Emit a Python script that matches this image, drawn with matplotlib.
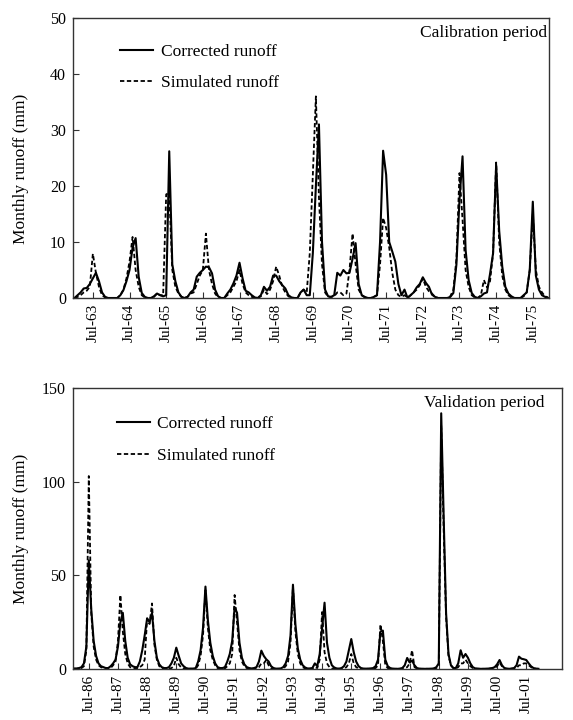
import numpy as np
import matplotlib
matplotlib.use('Agg')
import matplotlib.pyplot as plt

plt.rcParams['font.family'] = ['Liberation Serif', 'DejaVu Serif']

# Calibration period, monthly values Jan-1963 .. Dec-1975 (mm)
cal_corrected = [
    0, 0.5, 1, 1.7, 1.8, 2.5, 3.5, 4.5, 3, 1, 0.2, 0,          # 1963
    0, 0, 0, 0.5, 1.4, 3, 5, 9, 10.7, 3.8, 0.9, 0.2,            # 1964
    0, 0, 0.3, 0.8, 0.5, 0.3, 0.5, 26.2, 6, 3, 1, 0.2,          # 1965
    0, 0.2, 1, 1.5, 3.8, 4.5, 5, 5.6, 5.5, 4.4, 1.5, 0.3,       # 1966
    0, 0, 0.8, 1.5, 2.6, 4, 6.3, 3.5, 1.3, 1, 0.5, 0.1,         # 1967
    0, 0.5, 2, 1.3, 2, 4, 4, 3, 2.3, 1.7, 0.5, 0.1,             # 1968
    0, 0, 1, 1.5, 0.5, 0.5, 8, 20, 31, 10, 1.5, 0.3,            # 1969
    0.2, 0.5, 4.5, 4, 5, 4.4, 4.5, 7, 9.8, 2.5, 0.5, 0.2,       # 1970
    0, 0, 0.2, 0.5, 10, 26.3, 22, 10, 8.3, 6.5, 2.5, 0.5,       # 1971
    1.5, 0, 0.5, 1, 1.9, 2.5, 3.7, 2.7, 2, 0.6, 0.2, 0,         # 1972
    0, 0, 0, 0.2, 0.9, 6, 17.5, 25.3, 8.6, 3.2, 0.9, 0.2,       # 1973
    0, 0.3, 0.8, 1, 4.3, 8, 23.8, 12, 5.6, 2, 0.8, 0.3,         # 1974
    0, 0, 0, 0.5, 1, 5, 17.2, 4, 1.5, 0.5, 0.2, 0,              # 1975
]
cal_simulated = [
    0, 0.2, 0.5, 1, 1.3, 2, 7.9, 4.5, 2, 0.5, 0.1, 0,           # 1963
    0, 0, 0, 0.5, 1.5, 3.5, 6.5, 10.9, 5, 2, 0.5, 0.1,          # 1964
    0, 0, 0.2, 0.8, 0.5, 0.5, 18.5, 18.8, 5, 2, 0.8, 0.2,       # 1965
    0, 0.2, 0.8, 1, 2.5, 4, 5, 11.5, 5, 2.5, 0.8, 0.1,          # 1966
    0, 0, 0.5, 1, 2, 3, 5, 2.5, 1, 0.5, 0.2, 0,                 # 1967
    0, 0.3, 1.5, 0.7, 1.5, 3, 5.6, 4, 2, 1, 0.3, 0,             # 1968
    0, 0, 1, 1.5, 1, 8, 22, 36, 18, 6, 1, 0.2,                  # 1969
    0.2, 0.3, 1, 1, 0.5, 0.8, 5, 11.5, 6, 1.5, 0.5, 0.1,        # 1970
    0, 0, 0.2, 0.5, 6, 14.3, 12.5, 9, 4.5, 1.5, 0.5, 0.2,       # 1971
    0.5, 0.1, 0.5, 1, 1.5, 2.3, 3.5, 2, 1.2, 0.8, 0.2, 0,       # 1972
    0, 0, 0, 0.3, 1.5, 7, 22.3, 14, 5, 2, 0.5, 0.1,             # 1973
    0, 0.5, 3.2, 1.9, 3, 8, 24.2, 10, 4, 1.5, 0.5, 0.1,         # 1974
    0, 0, 0, 0.3, 1, 5, 15, 5, 2, 1, 0.3, 0.1,                  # 1975
]
cal_labels = ['Jul-63', 'Jul-64', 'Jul-65', 'Jul-66', 'Jul-67', 'Jul-68', 'Jul-69',
              'Jul-70', 'Jul-71', 'Jul-72', 'Jul-73', 'Jul-74', 'Jul-75']

# Validation period, monthly values Jan-1986 .. Dec-2001 (mm)
val_corrected = [
    0.3, 0.3, 0.5, 1, 3, 12, 58, 32, 15, 7, 3, 1.5,             # 1986
    1, 0.5, 0.5, 1.5, 3, 5, 12, 25, 30, 15, 6, 2.5,             # 1987
    1.5, 1, 1, 4, 10, 18, 27, 25, 30, 15, 6, 2.5,               # 1988
    1, 0.5, 0.5, 1, 3, 6, 11.4, 7, 3, 1.5, 0.5, 0.2,            # 1989
    0.2, 0.2, 0.5, 4, 10, 22, 44, 26, 14, 7, 3, 1,              # 1990
    0.5, 0.5, 1, 4, 8, 15, 33, 30, 14, 6, 2.5, 1,               # 1991
    0.5, 0.3, 0.5, 1, 4, 9.8, 7, 5.2, 4, 1.5, 0.5, 0.2,         # 1992
    0.2, 0.3, 1, 3, 7, 18, 45, 24, 11, 5, 2, 0.8,               # 1993
    0.3, 0.3, 0.5, 3, 1.5, 8, 22, 35.4, 14, 6, 2, 0.8,          # 1994
    0.3, 0.2, 0.5, 1.5, 4, 10, 16, 9, 4, 1.5, 0.5, 0.2,         # 1995
    0.2, 0.2, 0.3, 0.5, 1.5, 5, 20, 20.5, 5, 1.5, 0.5, 0.2,     # 1996
    0.1, 0.1, 0.2, 0.5, 2, 5.9, 3.5, 4.5, 2, 0.5, 0.2, 0.1,     # 1997
    0.1, 0.1, 0.1, 0.2, 0.3, 1, 3, 136.5, 82, 30, 8, 2,         # 1998
    0.5, 0.5, 3, 10, 6, 8, 6, 3, 1, 0.3, 0.2, 0.1,              # 1999
    0.1, 0.1, 0.2, 0.3, 0.5, 1, 2.5, 4.8, 2, 0.5, 0.2, 0.1,     # 2000
    0.3, 0.5, 2, 6.6, 5.5, 5.2, 4.8, 3, 1.4, 0.5, 0.2, 0.1,     # 2001
]
val_simulated = [
    0, 0, 0.3, 0.5, 1.5, 10, 103, 30, 12, 5, 2, 1,              # 1986
    0.5, 0.3, 0.3, 0.5, 2, 4, 15, 39.5, 20, 8, 3, 1,            # 1987
    0.5, 0.3, 0.3, 1, 2, 5, 27, 24, 35, 13, 5, 1.5,             # 1988
    0.3, 0.1, 0.1, 0.2, 0.5, 1.5, 6, 2.5, 0.8, 0.3, 0.1, 0.1,   # 1989
    0.1, 0.1, 0.2, 2, 7, 18, 42, 22, 10, 5, 2, 0.5,             # 1990
    0.2, 0.1, 0.3, 1.5, 3, 8, 39.5, 25, 10, 4, 1.5, 0.5,        # 1991
    0.1, 0.1, 0.1, 0.2, 1, 3, 3, 4.8, 2, 0.5, 0.1, 0.1,         # 1992
    0.1, 0.1, 0.2, 1.5, 4, 14, 44, 20, 8, 3, 1, 0.3,            # 1993
    0.1, 0.1, 0.2, 1, 0.5, 5, 30.4, 9, 3, 1, 0.3, 0.1,          # 1994
    0.1, 0.1, 0.1, 0.3, 1, 3, 8, 3, 1, 0.3, 0.1, 0.1,           # 1995
    0.1, 0.1, 0.1, 0.2, 0.5, 2, 23.8, 15, 2, 0.5, 0.2, 0.1,     # 1996
    0.1, 0.1, 0.1, 0.2, 0.5, 1, 3, 10, 1, 0.3, 0.1, 0.1,        # 1997
    0.1, 0.1, 0.1, 0.1, 0.2, 0.5, 2, 130, 75, 28, 7, 2,         # 1998
    0.5, 0.3, 1, 3, 3, 5, 3, 1.5, 0.5, 0.2, 0.1, 0.1,           # 1999
    0.1, 0.1, 0.1, 0.2, 0.3, 0.5, 1.5, 3.5, 1.5, 0.3, 0.1, 0.1, # 2000
    0.1, 0.2, 0.5, 2, 2, 3, 3, 2, 1, 0.3, 0.1, 0.1,             # 2001
]
val_labels = ['Jul-86', 'Jul-87', 'Jul-88', 'Jul-89', 'Jul-90', 'Jul-91', 'Jul-92',
              'Jul-93', 'Jul-94', 'Jul-95', 'Jul-96', 'Jul-97', 'Jul-98', 'Jul-99',
              'Jul-00', 'Jul-01']

dash = (0, (2.4, 1.4))
frame_col = '#333333'


def draw_panel(ax, corrected, simulated, labels, xmax, ymax, ystep, title,
               title_x, leg_anchor, leg_space):
    x = np.arange(len(corrected))
    ax.plot(x, corrected, color='black', lw=1.5, label='Corrected runoff')
    ax.plot(x, simulated, color='black', lw=1.3, linestyle=dash,
            label='Simulated runoff')
    ax.set_xlim(-0.5, xmax)
    ax.set_ylim(0, ymax)
    ax.set_xticks(np.arange(len(labels)) * 12 + 6)
    ax.set_xticklabels(labels, rotation=90, fontsize=11)
    ax.set_yticks(np.arange(0, ymax + 1, ystep))
    ax.tick_params(axis='x', direction='in', length=4, width=0.8,
                   color=frame_col, pad=4)
    ax.tick_params(axis='y', direction='in', length=4, width=0.8,
                   color=frame_col, pad=5, labelsize=11.5)
    for sp in ax.spines.values():
        sp.set_color(frame_col)
        sp.set_linewidth(1.0)
    ax.set_ylabel('Monthly runoff (mm)', fontsize=12.5)
    ax.text(title_x, 0.946, title, transform=ax.transAxes, ha='right',
            va='center', fontsize=12.5)
    ax.legend(loc='upper left', bbox_to_anchor=leg_anchor, frameon=False,
              fontsize=12.5, handlelength=1.9, handletextpad=0.45,
              labelspacing=leg_space, borderpad=0, borderaxespad=0)


fig = plt.figure(figsize=(5.73, 7.2), dpi=100)

ax1 = fig.add_axes([73 / 573, 1 - 298 / 720, 476 / 573, 280 / 720])
draw_panel(ax1, cal_corrected, cal_simulated, cal_labels, 155.3, 50, 10,
           'Calibration period', 0.997, (0.099, 0.907), 0.85)
ax1.yaxis.set_label_coords(-0.092, 0.46)

ax2 = fig.add_axes([73 / 573, 1 - 669 / 720, 489 / 573, 281 / 720])
draw_panel(ax2, val_corrected, val_simulated, val_labels, 200.7, 150, 50,
           'Validation period', 0.965, (0.089, 0.902), 0.95)
ax2.yaxis.set_label_coords(-0.089, 0.5)

fig.savefig('out.png', dpi=100)
